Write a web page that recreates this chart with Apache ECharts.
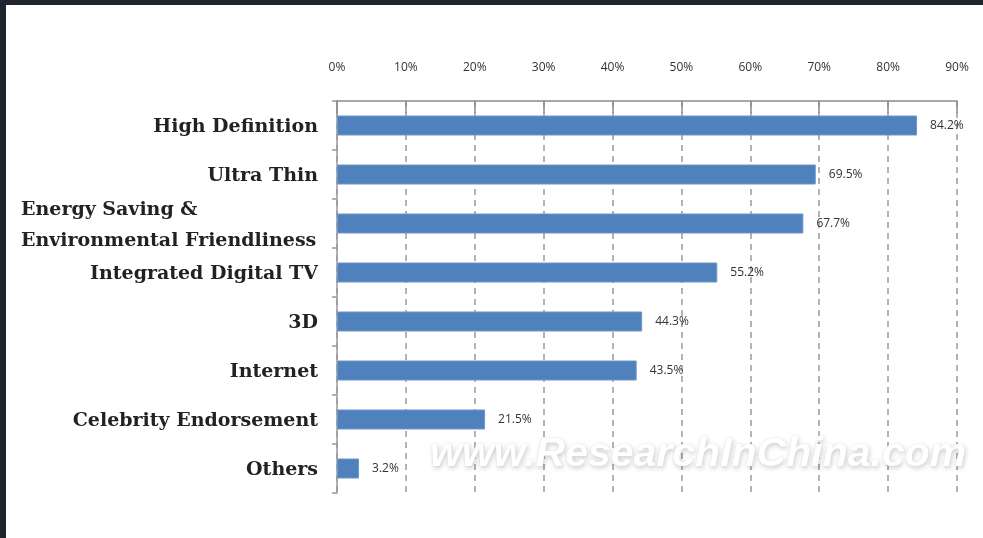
<!DOCTYPE html>
<html>
<head>
<meta charset="utf-8">
<script src="https://cdn.jsdelivr.net/npm/echarts@6/dist/echarts.min.js"></script>
<style>html,body{margin:0;padding:0;background:#fff;}#c{width:983px;height:538px;}</style>
</head>
<body>
<div id="c"></div>
<script>
const categories = ["High Definition", "Ultra Thin", "Energy Saving &\nEnvironmental Friendliness", "Integrated Digital TV", "3D", "Internet", "Celebrity Endorsement", "Others"];
const values = [84.2, 69.5, 67.7, 55.2, 44.3, 43.5, 21.5, 3.2];
const xTicks = [0, 10, 20, 30, 40, 50, 60, 70, 80, 90];

const chart = echarts.init(document.getElementById('c'));
chart.setOption({
  backgroundColor: '#fff',
  animation: false,
  graphic: [
    { type: 'rect', shape: { x: 0, y: 0, width: 983, height: 5 }, style: { fill: '#1e252d' }, z: 100 },
    { type: 'rect', shape: { x: 0, y: 0, width: 6, height: 538 }, style: { fill: '#1e252d' }, z: 100 },
    { type: 'text', x: 430, y: 434, z: 50,
      style: { text: 'www.ResearchInChina.com', fontSize: 41, fontStyle: 'italic', fontWeight: 'bold',
        fontFamily: '"Liberation Sans", Arial, sans-serif',
        fill: '#ffffff', stroke: '#eeeeee', lineWidth: 0.5,
        textShadowColor: 'rgba(0,0,0,0.18)', textShadowBlur: 5, textShadowOffsetX: 1, textShadowOffsetY: 2,
        shadowColor: 'rgba(0,0,0,0.18)', shadowBlur: 5, shadowOffsetX: 1, shadowOffsetY: 2 } }
  ],
  grid: { left: 337, right: 26, top: 101, bottom: 45, containLabel: false },
  xAxis: {
    type: 'value', position: 'top', min: xTicks[0], max: xTicks[xTicks.length - 1], interval: 10,
    axisLine: { show: true, lineStyle: { color: '#8c8c8c', width: 1.5 } },
    axisTick: { show: true, inside: true, length: 12, lineStyle: { color: '#8c8c8c', width: 1.5 } },
    axisLabel: { formatter: '{value}%', margin: 27, color: '#333', fontSize: 12, fontFamily: '"Open Sans", "DejaVu Sans", sans-serif' },
    splitLine: { show: true, lineStyle: { color: '#9a9a9a', width: 1.5, type: [6, 5] } }
  },
  yAxis: {
    type: 'category', inverse: true, data: categories,
    axisLine: { show: true, lineStyle: { color: '#9a9a9a', width: 1.5 } },
    axisTick: { show: true, length: 5, lineStyle: { color: '#9a9a9a', width: 1.5 } },
    axisLabel: {
      margin: 19,
      padding: [4, 0, 0, 0],
      formatter: function (v) {
        if (v.indexOf('\n') >= 0) {
          return v.split('\n').map(s => '{m|' + s + '}').join('\n');
        }
        return v;
      },
      color: '#222', fontSize: 19, fontWeight: 'bold', fontFamily: '"DejaVu Serif", serif',
      rich: { m: { width: 297, align: 'left', fontSize: 19, fontWeight: 'bold', fontFamily: '"DejaVu Serif", serif', color: '#222', lineHeight: 31 } }
    }
  },
  series: [{
    type: 'bar', data: values, barWidth: 20,
    itemStyle: { color: '#4f81bd', borderColor: '#6d97c9', borderWidth: 1 },
    label: { show: true, position: 'right', distance: 13, formatter: p => p.value + '%', color: '#333', fontSize: 12, fontFamily: '"Open Sans", "DejaVu Sans", sans-serif' },
    z: 3
  }]
});
</script>
</body>
</html>
